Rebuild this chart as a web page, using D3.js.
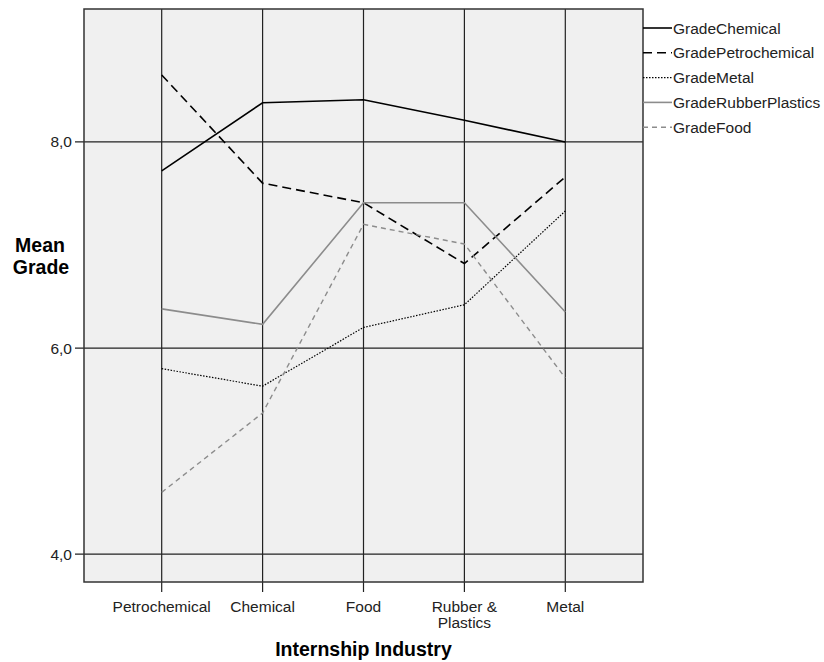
<!DOCTYPE html>
<html>
<head>
<meta charset="utf-8">
<script src="https://cdn.jsdelivr.net/npm/d3@7"></script>
<style>
  body { margin: 0; background: #fff; }
  text { font-family: "Liberation Sans", Arial, sans-serif; }
</style>
</head>
<body>
<svg id="chart" width="824" height="662"></svg>
<script>
// 类别与数据
const industries = ["Petrochemical", "Chemical", "Food", "Rubber & Plastics", "Metal"];
const gradeChemical       = [7.72, 8.38, 8.41, 8.21, 8.00];
const gradePetrochemical  = [8.65, 7.60, 7.41, 6.82, 7.66];
const gradeMetal          = [5.80, 5.63, 6.20, 6.42, 7.33];
const gradeRubberPlastics = [6.38, 6.23, 7.41, 7.41, 6.35];
const gradeFood           = [4.60, 5.37, 7.20, 7.01, 5.71];
const yTicks = [4, 6, 8];

const series = [
  { name: "GradeChemical",       values: gradeChemical,       color: "#000", dash: null,  width: 1.6 },
  { name: "GradePetrochemical",  values: gradePetrochemical,  color: "#000", dash: "9,5", width: 1.6 },
  { name: "GradeMetal",          values: gradeMetal,          color: "#000", dash: "1.5,1.5", width: 1.2 },
  { name: "GradeRubberPlastics", values: gradeRubberPlastics, color: "#8c8c8c", dash: null,  width: 1.6 },
  { name: "GradeFood",           values: gradeFood,           color: "#8c8c8c", dash: "5,4", width: 1.4 }
];

const svg = d3.select("#chart");
const pLeft = 84, pRight = 643, pTop = 9, pBottom = 582;

const x = d3.scalePoint().domain(industries).range([pLeft, pRight]).padding(0.77);
const y = d3.scaleLinear().domain([3.73, 9.29]).range([pBottom, pTop]);

// 绘图区背景
svg.append("rect")
  .attr("x", pLeft).attr("y", pTop)
  .attr("width", pRight - pLeft).attr("height", pBottom - pTop)
  .attr("fill", "#f0f0f0");

// 网格线
svg.append("g").selectAll("line")
  .data(yTicks).enter().append("line")
  .attr("x1", pLeft - 9).attr("x2", pRight)
  .attr("y1", d => y(d)).attr("y2", d => y(d))
  .attr("stroke", "#222").attr("stroke-width", 1.2);

svg.append("g").selectAll("line")
  .data(industries).enter().append("line")
  .attr("x1", d => x(d)).attr("x2", d => x(d))
  .attr("y1", pTop).attr("y2", pBottom + 10)
  .attr("stroke", "#222").attr("stroke-width", 1.2);

// 边框
svg.append("rect")
  .attr("x", pLeft).attr("y", pTop)
  .attr("width", pRight - pLeft).attr("height", pBottom - pTop)
  .attr("fill", "none").attr("stroke", "#333").attr("stroke-width", 1.5);

// Y 轴刻度标签（逗号小数）
svg.append("g").selectAll("text")
  .data(yTicks).enter().append("text")
  .attr("x", pLeft - 12).attr("y", d => y(d) + 5.5)
  .attr("text-anchor", "end")
  .attr("font-size", 15.5).attr("fill", "#222")
  .text(d => d3.format(".1f")(d).replace(".", ","));

// X 轴标签
const xl = svg.append("g").selectAll("text")
  .data(industries).enter().append("text")
  .attr("x", d => x(d)).attr("y", 612)
  .attr("text-anchor", "middle")
  .attr("font-size", 15.5).attr("fill", "#222");
xl.each(function (d) {
  const t = d3.select(this);
  if (d === "Rubber & Plastics") {
    t.append("tspan").attr("x", x(d)).attr("dy", 0).text("Rubber &");
    t.append("tspan").attr("x", x(d)).attr("dy", 16).text("Plastics");
  } else {
    t.text(d);
  }
});

// 轴标题
svg.append("text")
  .attr("x", (pLeft + pRight) / 2).attr("y", 656)
  .attr("text-anchor", "middle")
  .attr("font-size", 19.5).attr("font-weight", "bold")
  .text("Internship Industry");

const yt = svg.append("text")
  .attr("font-size", 19.5).attr("font-weight", "bold").attr("text-anchor", "middle");
yt.append("tspan").attr("x", 40).attr("y", 252).text("Mean");
yt.append("tspan").attr("x", 41).attr("y", 274).text("Grade");

// 折线
const line = d3.line().x((d, i) => x(industries[i])).y(d => y(d));
svg.append("g").selectAll("path")
  .data(series).enter().append("path")
  .attr("d", d => line(d.values))
  .attr("fill", "none")
  .attr("stroke", d => d.color)
  .attr("stroke-width", d => d.width)
  .attr("stroke-dasharray", d => d.dash);

// 图例
const lg = svg.append("g").selectAll("g")
  .data(series).enter().append("g")
  .attr("transform", (d, i) => `translate(${pRight}, ${28 + i * 24.8})`);
lg.append("line")
  .attr("x1", 0).attr("x2", 29)
  .attr("stroke", d => d.color)
  .attr("stroke-width", d => d.width)
  .attr("stroke-dasharray", d => d.dash);
lg.append("text")
  .attr("x", 30).attr("y", 5.5)
  .attr("font-size", 15.5).attr("fill", "#222")
  .text(d => d.name);
</script>
</body>
</html>
